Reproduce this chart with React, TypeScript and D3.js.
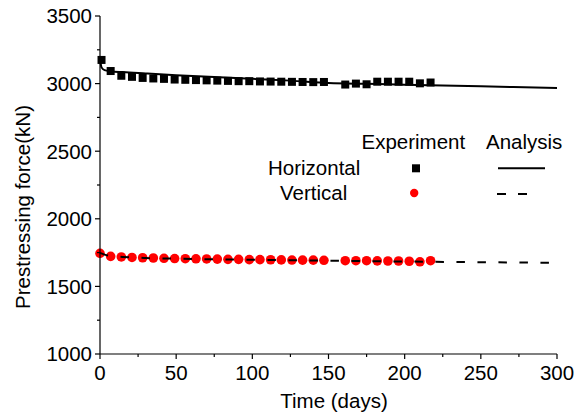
import React from "react";
import * as d3 from "d3";

const hDays = [1, 7, 14, 21, 28, 35, 42, 49, 56, 63, 70, 77, 84, 91, 98, 105, 112, 119, 126, 133, 140, 147, 161, 168, 175, 182, 189, 196, 203, 210, 217];
const hForce = [3175, 3093, 3058, 3050, 3042, 3038, 3035, 3030, 3028, 3026, 3024, 3022, 3020, 3018, 3018, 3016, 3015, 3014, 3013, 3012, 3011, 3012, 2993, 3000, 2995, 3014, 3014, 3014, 3014, 3002, 3008];

const vDays = [0, 7, 14, 21, 28, 35, 42, 49, 56, 63, 70, 77, 84, 91, 98, 105, 112, 119, 126, 133, 140, 147, 161, 168, 175, 182, 189, 196, 203, 210, 217];
const vForce = [1745, 1722, 1718, 1714, 1712, 1710, 1708, 1706, 1705, 1704, 1703, 1702, 1700, 1700, 1698, 1698, 1697, 1696, 1695, 1694, 1694, 1693, 1690, 1690, 1690, 1689, 1688, 1688, 1686, 1682, 1690];

const hAnaDays = [0, 1, 3, 7, 15, 30, 50, 75, 100, 125, 150, 175, 200, 250, 300];
const hAnaForce = [3185, 3120, 3100, 3092, 3085, 3075, 3062, 3048, 3035, 3022, 3005, 2998, 2992, 2980, 2968];

const vAnaDays = [0, 3, 7, 15, 30, 50, 100, 150, 200, 250, 300];
const vAnaForce = [1748, 1735, 1725, 1718, 1710, 1705, 1697, 1690, 1684, 1679, 1674];

const xTicks = [0, 50, 100, 150, 200, 250, 300];
const xMinor = [25, 75, 125, 175, 225, 275];
const yTicks = [1000, 1500, 2000, 2500, 3000, 3500];
const yMinor = [1250, 1750, 2250, 2750, 3250];

const FONT = "'Liberation Sans', Arial, Helvetica, sans-serif";
const FS = 20.5;

export default function App() {
  const x = d3.scaleLinear().domain([0, 300]).range([100, 557]);
  const y = d3.scaleLinear().domain([1000, 3500]).range([354, 16]);

  const line = d3
    .line<[number, number]>()
    .x((d) => x(d[0]))
    .y((d) => y(d[1]))
    .curve(d3.curveMonotoneX);

  const hLine = line(hAnaDays.map((d, i) => [d, hAnaForce[i]] as [number, number])) || "";
  const vLine = line(vAnaDays.map((d, i) => [d, vAnaForce[i]] as [number, number])) || "";

  const sq = 8;

  return (
    <svg
      width={576}
      height={418}
      style={{ position: "absolute", left: 0, top: 0, background: "#fff" }}
      fontFamily={FONT}
    >
      <rect x={0} y={0} width={576} height={418} fill="#fff" />
      {vDays.map((d, i) => (
        <circle key={"v" + i} cx={x(d)} cy={y(vForce[i])} r={4.8} fill="#ff0000" />
      ))}
      {hDays.map((d, i) => (
        <rect key={"h" + i} x={x(d) - sq / 2} y={y(hForce[i]) - sq / 2} width={sq} height={sq} fill="#000" />
      ))}
      <path d={hLine} fill="none" stroke="#000" strokeWidth={2} />
      <path d={vLine} fill="none" stroke="#000" strokeWidth={2} strokeDasharray="8.5 12.5" />

      <line x1={100} y1={354} x2={557} y2={354} stroke="#000" strokeWidth={1.2} />
      <line x1={100} y1={354} x2={100} y2={16} stroke="#000" strokeWidth={1.2} />
      {xTicks.map((t) => (
        <g key={"xt" + t}>
          <line x1={x(t)} x2={x(t)} y1={354} y2={359} stroke="#000" strokeWidth={1.2} />
          <text x={x(t)} y={380} textAnchor="middle" fontSize={FS}>
            {t}
          </text>
        </g>
      ))}
      {xMinor.map((t) => (
        <line key={"xm" + t} x1={x(t)} x2={x(t)} y1={354} y2={357} stroke="#000" strokeWidth={1.2} />
      ))}
      {yTicks.map((t) => (
        <g key={"yt" + t}>
          <line x1={95} x2={100} y1={y(t)} y2={y(t)} stroke="#000" strokeWidth={1.2} />
          <text x={92} y={y(t) + 7.3} textAnchor="end" fontSize={FS}>
            {t}
          </text>
        </g>
      ))}
      {yMinor.map((t) => (
        <line key={"ym" + t} x1={97} x2={100} y1={y(t)} y2={y(t)} stroke="#000" strokeWidth={1.2} />
      ))}
      <text x={334} y={407.5} textAnchor="middle" fontSize={FS}>
        Time (days)
      </text>
      <text transform="translate(29.5,207) rotate(-90)" textAnchor="middle" fontSize={FS}>
        Prestressing force(kN)
      </text>

      <text x={361.5} y={149} fontSize={FS}>Experiment</text>
      <text x={486} y={149} fontSize={FS}>Analysis</text>
      <text x={268} y={175} fontSize={FS}>Horizontal</text>
      <text x={280} y={200} fontSize={FS}>Vertical</text>
      <rect x={412} y={164.3} width={8} height={8} fill="#000" />
      <circle cx={414.2} cy={193} r={4.2} fill="#ff0000" />
      <line x1={498} x2={545} y1={168.3} y2={168.3} stroke="#000" strokeWidth={2} />
      <line x1={497} x2={528} y1={194} y2={194} stroke="#000" strokeWidth={2} strokeDasharray="9 12" />
    </svg>
  );
}
